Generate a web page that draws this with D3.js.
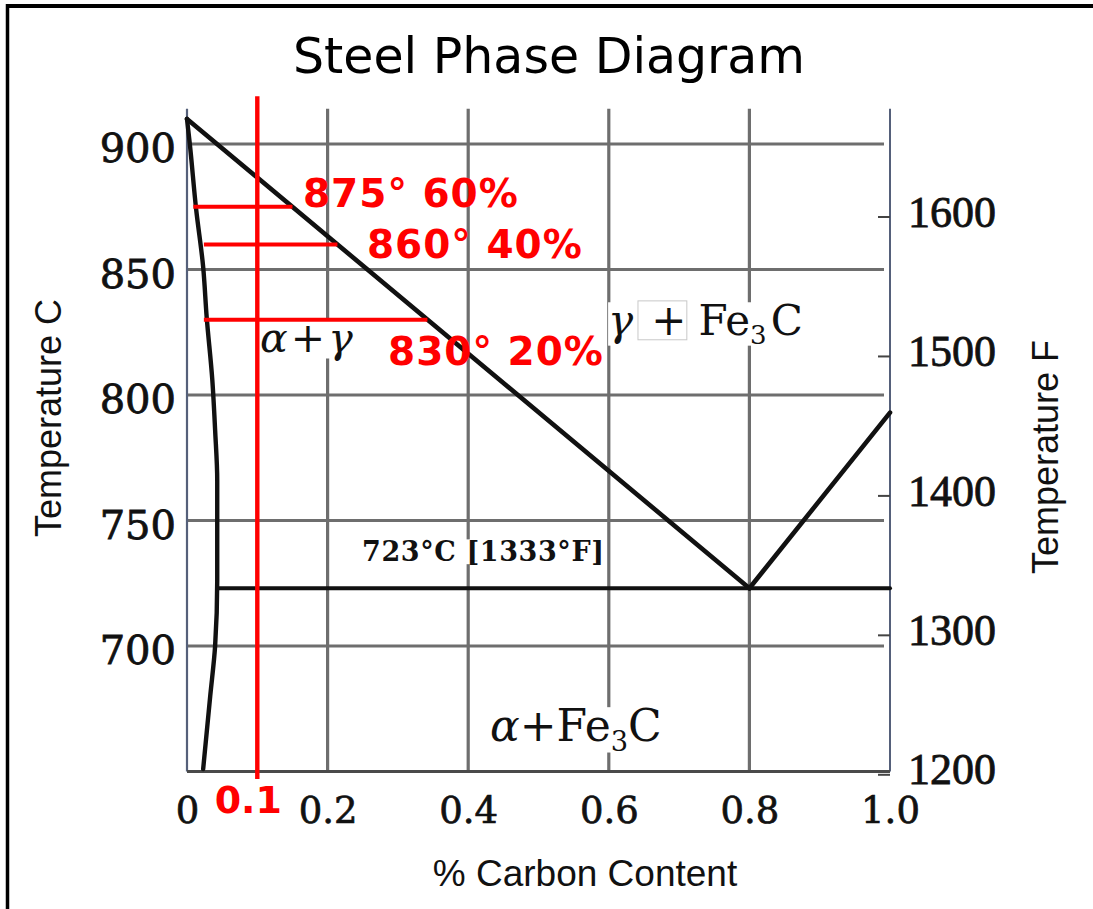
<!DOCTYPE html>
<html>
<head>
<meta charset="utf-8">
<script src="https://cdn.jsdelivr.net/npm/d3@7"></script>
<style>
  html, body { margin: 0; padding: 0; background: #ffffff; }
  svg { display: block; }
</style>
</head>
<body>
<svg id="chart" width="1093" height="909"></svg>
<script>
// Axis ticks
const carbonTicks = [0, 0.2, 0.4, 0.6, 0.8, 1.0];
const carbonTickLabels = ["0", "0.2", "0.4", "0.6", "0.8", "1.0"];
const celsiusTicks = [700, 750, 800, 850, 900];
const fahrenheitTicks = [1200, 1300, 1400, 1500, 1600];

// Phase boundaries (carbon %, temperature °C)
const a3Line = [{ c: 0, t: 910 }, { c: 0.8, t: 723 }];
const acmLine = [{ c: 0.8, t: 723 }, { c: 1.0, t: 793 }];
const eutectoidLine = [{ c: 0.043, t: 723 }, { c: 1.0, t: 723 }];
const ferriteBoundary = [
  { c: 0.000, t: 910 },
  { c: 0.004, t: 900 },
  { c: 0.013, t: 874 },
  { c: 0.023, t: 851 },
  { c: 0.028, t: 831 },
  { c: 0.036, t: 806 },
  { c: 0.040, t: 786 },
  { c: 0.043, t: 766 },
  { c: 0.043, t: 726 },
  { c: 0.040, t: 700 },
  { c: 0.033, t: 680 },
  { c: 0.023, t: 651 }
];

// Lever-rule tie lines for 0.1 % carbon steel
const leverTemps = [875, 860, 830];
const leverLeft = [0.009, 0.024, 0.024];
const leverRight = [0.15, 0.214, 0.342];
const leverPercents = ["60%", "40%", "20%"];
const markerCarbon = 0.1;
const markerTemps = [919, 647];

// Plot range
const tempMin = 650, tempMax = 914;

const svg = d3.select("#chart");
const x = d3.scaleLinear().domain([0, 1]).range([187, 890]);
const y = d3.scaleLinear().domain([900, 700]).range([144, 646]);
const toF = c => c * 9 / 5 + 32;
const yF = d3.scaleLinear().domain([toF(tempMin), toF(tempMax)]).range([y(tempMin), y(tempMax)]);

const xL = x(0), xR = x(1), yT = y(tempMax), yB = y(tempMin);

// Page frame
svg.append("line").attr("x1", 7.5).attr("x2", 7.5).attr("y1", 4).attr("y2", 909)
  .attr("stroke", "#000").attr("stroke-width", 3.5);
svg.append("line").attr("x1", 6).attr("x2", 1093).attr("y1", 6).attr("y2", 6)
  .attr("stroke", "#000").attr("stroke-width", 4);

// Title
svg.append("text").attr("x", 549).attr("y", 73).attr("text-anchor", "middle")
  .attr("font-family", "DejaVu Sans").attr("font-size", 49).attr("fill", "#000")
  .text("Steel Phase Diagram");

// Grid
const grid = svg.append("g").attr("stroke", "#6e6e6e").attr("stroke-width", 3.2);
grid.selectAll("line.v").data(carbonTicks.filter(d => d > 0 && d < 1)).join("line")
  .attr("x1", d => x(d)).attr("x2", d => x(d)).attr("y1", yT).attr("y2", yB);
grid.selectAll("line.h").data(celsiusTicks).join("line")
  .attr("x1", xL).attr("x2", xR - 6).attr("y1", d => y(d)).attr("y2", d => y(d));

// Frame of the plot
svg.append("line").attr("x1", xL).attr("x2", xL).attr("y1", yT).attr("y2", yB)
  .attr("stroke", "#55607a").attr("stroke-width", 2.2);
svg.append("line").attr("x1", xR).attr("x2", xR).attr("y1", yT).attr("y2", yB)
  .attr("stroke", "#55607a").attr("stroke-width", 2);
svg.append("line").attr("x1", xL).attr("x2", xR).attr("y1", yB).attr("y2", yB)
  .attr("stroke", "#4a4a4a").attr("stroke-width", 3.2);

// Bottom axis labels
const gx = svg.append("g").attr("transform", `translate(0,${yB})`)
  .call(d3.axisBottom(x).tickValues(carbonTicks)
    .tickFormat((d, i) => carbonTickLabels[i]).tickSize(0).tickPadding(0));
gx.select(".domain").remove();
gx.selectAll("text").attr("y", 51).attr("dy", null)
  .attr("font-family", "DejaVu Serif").attr("font-size", 37).attr("fill", "#111")
  .attr("stroke", "#111").attr("stroke-width", 0.7);

// Left axis labels (°C)
const gy = svg.append("g").attr("transform", `translate(${xL},0)`)
  .call(d3.axisLeft(y).tickValues(celsiusTicks).tickSize(0).tickPadding(11));
gy.select(".domain").remove();
gy.selectAll("text").attr("dy", "0.44em")
  .attr("font-family", "DejaVu Serif").attr("font-size", 40).attr("fill", "#111")
  .attr("stroke", "#111").attr("stroke-width", 0.8);

// Right axis (°F) with inward ticks
const gf = svg.append("g").attr("transform", `translate(${xR},0)`)
  .call(d3.axisRight(yF).tickValues(fahrenheitTicks).tickFormat(d3.format("d"))
    .tickSize(-12).tickPadding(18));
gf.select(".domain").remove();
gf.selectAll("line").attr("stroke", "#444").attr("stroke-width", 2);
gf.selectAll("text").attr("dy", "0.22em")
  .attr("font-family", "Liberation Serif").attr("font-size", 44).attr("fill", "#111")
  .attr("stroke", "#111").attr("stroke-width", 0.8);

// Axis titles
svg.append("text").attr("transform", "translate(61,418) rotate(-90)")
  .attr("text-anchor", "middle").attr("font-family", "Liberation Sans")
  .attr("font-size", 36).attr("fill", "#111").text("Temperature C");
svg.append("text").attr("transform", "translate(1058,457) rotate(-90)")
  .attr("text-anchor", "middle").attr("font-family", "Liberation Sans")
  .attr("font-size", 36).attr("fill", "#111").text("Temperature F");
svg.append("text").attr("x", 585).attr("y", 886).attr("text-anchor", "middle")
  .attr("font-family", "Liberation Sans").attr("font-size", 37).attr("fill", "#111")
  .text("% Carbon Content");

// Region labels (white backing hides the grid behind them)
const backs = svg.append("g");
const labels = svg.append("g").attr("font-family", "DejaVu Serif").attr("fill", "#111");

function regionLabel(cx, ty, size, parts) {
  const t = labels.append("text").attr("x", x(cx)).attr("y", y(ty)).attr("font-size", size);
  parts.forEach(p => {
    const s = t.append("tspan").text(p.s);
    if (p.i) s.attr("font-style", "italic");
    if (p.sub) s.attr("font-size", size * 0.62).attr("dy", size * 0.22);
    if (p.up) s.attr("dy", -size * 0.22);
    if (p.dx) s.attr("dx", p.dx);
  });
  return t;
}

const lblAG = regionLabel(0.104, 817, 41, [{ s: "α", i: true }, { s: "+", dx: 3 }, { s: "γ", i: true, dx: 3 }]);
const lblGF = regionLabel(0.599, 824, 42, [{ s: "γ", i: true }, { s: "+", dx: 18 }, { s: "Fe", dx: 12 }, { s: "3", sub: true }, { s: "C", up: true, dx: 4 }]);
const lblAF = regionLabel(0.431, 662, 44, [{ s: "α", i: true }, { s: "+" }, { s: "Fe" }, { s: "3", sub: true }, { s: "C", up: true }]);
const lblEu = labels.append("text").attr("x", x(0.249)).attr("y", y(734))
  .attr("font-family", "DejaVu Serif").attr("font-weight", "bold").attr("font-size", 27)
  .attr("letter-spacing", 0.6).text("723°C [1333°F]");

[lblAG, lblGF, lblAF, lblEu].forEach(t => {
  const b = t.node().getBBox();
  backs.append("rect").attr("x", b.x).attr("y", b.y + b.height * 0.12)
    .attr("width", b.width).attr("height", b.height * 0.8).attr("fill", "#fff");
});
// thin pasted box around the plus sign
backs.append("rect")
  .attr("x", x(0.6415)).attr("y", y(837.5)).attr("width", x(0.711) - x(0.6415))
  .attr("height", y(822) - y(837.5)).attr("fill", "none")
  .attr("stroke", "#c8c8c8").attr("stroke-width", 1);

// Phase boundaries
const line = d3.line().x(d => x(d.c)).y(d => y(d.t));
const phase = svg.append("g").attr("fill", "none").attr("stroke", "#111")
  .attr("stroke-linecap", "round").attr("stroke-linejoin", "round");
phase.append("path").attr("d", line(a3Line)).attr("stroke-width", 4.6);
phase.append("path").attr("d", line(acmLine)).attr("stroke-width", 4.6);
phase.append("path").attr("d", line(eutectoidLine)).attr("stroke-width", 4);
phase.append("path").attr("d", d3.line().x(d => x(d.c)).y(d => y(d.t))
  .curve(d3.curveMonotoneY)(ferriteBoundary)).attr("stroke-width", 4.4);
svg.node().appendChild(labels.node());

// Tie lines and vertical composition marker
const red = "#ff0000";
const ties = svg.append("g").attr("stroke", red).attr("stroke-width", 4);
ties.selectAll("line").data(leverTemps).join("line")
  .attr("x1", (d, i) => x(leverLeft[i])).attr("x2", (d, i) => x(leverRight[i]))
  .attr("y1", d => y(d)).attr("y2", d => y(d));
svg.append("line").attr("x1", x(markerCarbon)).attr("x2", x(markerCarbon))
  .attr("y1", y(markerTemps[0])).attr("y2", y(markerTemps[1]))
  .attr("stroke", red).attr("stroke-width", 4.4);

// Red annotations
const notes = svg.append("g").attr("font-family", "DejaVu Sans").attr("font-weight", "bold")
  .attr("fill", red).attr("font-size", 39).attr("letter-spacing", 1);
const notePos = [{ c: 0.165, t: 875 }, { c: 0.256, t: 854.6 }, { c: 0.286, t: 812 }];
notes.selectAll("text").data(leverTemps).join("text")
  .attr("x", (d, i) => x(notePos[i].c)).attr("y", (d, i) => y(notePos[i].t))
  .text((d, i) => `${d}° ${leverPercents[i]}`);
svg.append("text").attr("x", x(markerCarbon) - 9).attr("y", 813).attr("text-anchor", "middle")
  .attr("font-family", "DejaVu Sans").attr("font-weight", "bold").attr("font-size", 38)
  .attr("fill", red).text(String(markerCarbon));
</script>
</body>
</html>
